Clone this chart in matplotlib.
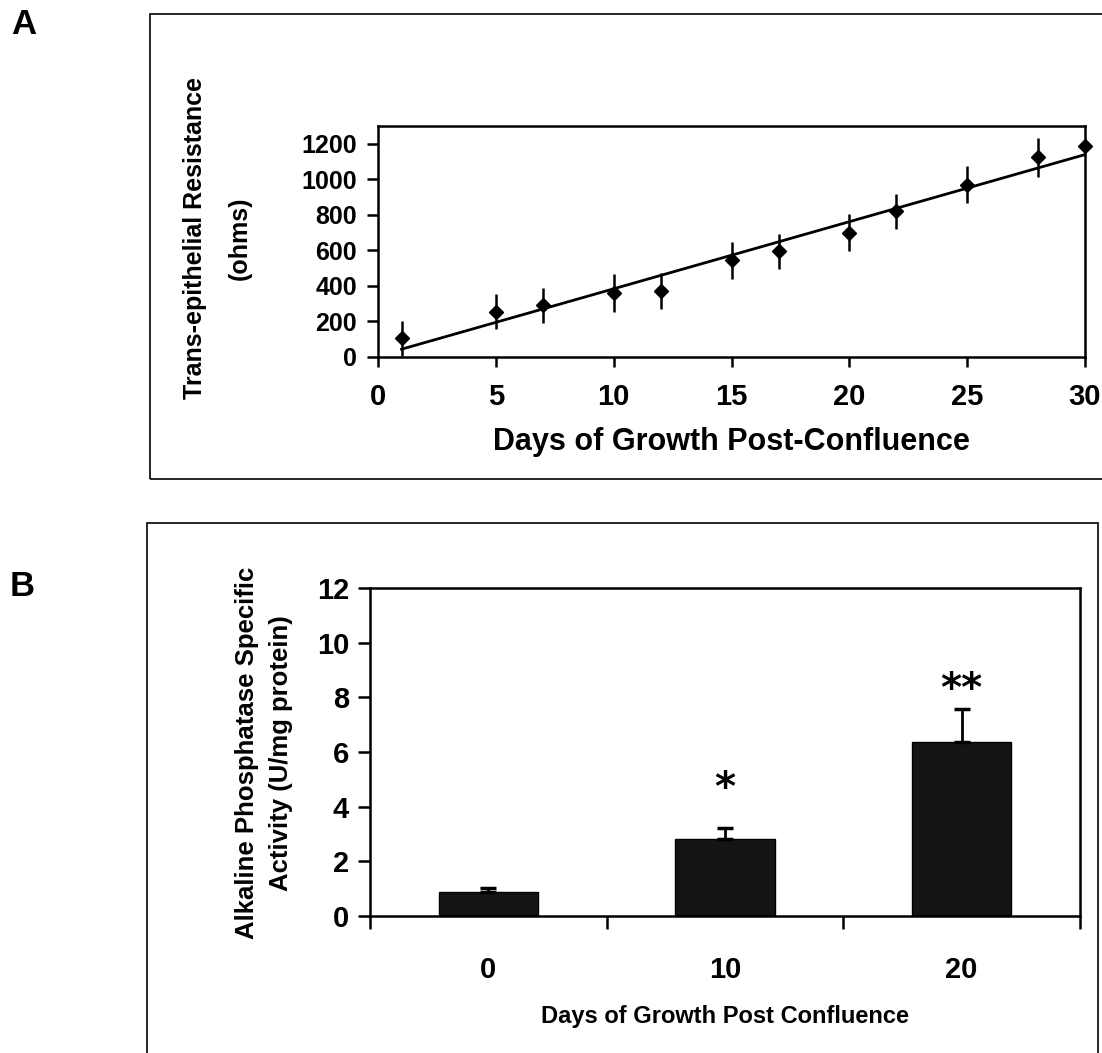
import numpy as np
import matplotlib
matplotlib.use("Agg")
import matplotlib.pyplot as plt
from matplotlib.patches import Rectangle

# panel A: trans-epithelial resistance vs days post-confluence
days_a = [1, 5, 7, 10, 12, 15, 17, 20, 22, 25, 28, 30]
resistance = [105, 255, 290, 360, 370, 545, 595, 700, 820, 970, 1125, 1190]
resistance_err = [100, 100, 100, 105, 100, 105, 100, 105, 100, 105, 110, 0]

# panel B: alkaline phosphatase activity
days_b = ["0", "10", "20"]
activity = [0.88, 2.8, 6.35]
activity_err = [0.15, 0.42, 1.22]
stars = ["", "*", "**"]

W, H = 1102, 1053
plt.rcParams["font.family"] = ["Liberation Sans", "DejaVu Sans"]
plt.rcParams["font.weight"] = "bold"
plt.rcParams["axes.labelweight"] = "bold"


def px_box(left, top, right, bottom):
    return [left / W, 1 - bottom / H, (right - left) / W, (bottom - top) / H]


def px_xy(x, y):
    return x / W, 1 - y / H


def style_spines(ax, lw=1.8):
    for side in ("left", "right", "top", "bottom"):
        ax.spines[side].set_linewidth(lw)
        ax.spines[side].set_color("black")


fig = plt.figure(figsize=(W / 100, H / 100), dpi=100)

# outer frames
for left, top, right, bottom in [(150, 14, 1110, 479), (147, 523, 1098, 1060)]:
    x0, y0 = px_xy(left, bottom)
    fig.patches.append(Rectangle((x0, y0), (right - left) / W, (bottom - top) / H,
                                 transform=fig.transFigure, fill=False,
                                 lw=1.2, edgecolor="black"))

fig.text(*px_xy(24, 24), "A", fontsize=25, ha="center", va="center")
fig.text(*px_xy(22, 587), "B", fontsize=25, ha="center", va="center")

# ---- panel A ----
ax_a = fig.add_axes(px_box(378, 126, 1085, 357))
ax_a.errorbar(days_a, resistance, yerr=resistance_err, fmt="none",
              ecolor="black", elinewidth=1.8, capsize=0)
ax_a.plot(days_a, resistance, "D", color="black", ms=7, clip_on=False, zorder=4)
fit = np.polyfit(days_a, resistance, 1)
fit_x = np.array([days_a[0], days_a[-1]])
ax_a.plot(fit_x, np.polyval(fit, fit_x), color="black", lw=2)

ax_a.set_xlim(0, 30)
ax_a.set_ylim(0, 1300)
ax_a.set_xticks(range(0, 31, 5))
ax_a.set_yticks(range(0, 1201, 200))
ax_a.tick_params(axis="x", direction="out", length=7, width=1.8, labelsize=21, pad=12)
ax_a.tick_params(axis="y", direction="out", length=8, width=1.8, labelsize=18, pad=7)
style_spines(ax_a)
ax_a.set_xlabel("Days of Growth Post-Confluence", fontsize=22)
ax_a.xaxis.label.set_va("center")
ax_a.xaxis.set_label_coords(0.5, (357 - 442) / 231)
fig.text(*px_xy(195, 238), "Trans-epithelial Resistance", rotation=90,
         fontsize=18, ha="center", va="center")
fig.text(*px_xy(240, 238), "(ohms)", rotation=90,
         fontsize=18, ha="center", va="center")

# ---- panel B ----
ax_b = fig.add_axes(px_box(370, 588, 1080, 916))
pos = np.arange(len(days_b)) + 0.5
ax_b.bar(pos, activity, width=0.42, color="#141414", edgecolor="black", lw=1, zorder=2)
ax_b.errorbar(pos, activity, yerr=[np.zeros(len(activity)), activity_err], fmt="none",
              ecolor="black", elinewidth=2, capsize=6, capthick=2.5, zorder=3)
star_y = [0, 4.25, 7.85]
for x, s, y in zip(pos, stars, star_y):
    if s:
        ax_b.text(x, y, s, fontsize=29, ha="center", va="baseline",
                  fontweight="bold", family=["DejaVu Sans"])

ax_b.set_xlim(0, 3)
ax_b.set_ylim(0, 12)
ax_b.set_yticks(range(0, 13, 2))
ax_b.set_xticks([0, 1, 2, 3])
ax_b.set_xticklabels([])
ax_b.set_xticks(pos, minor=True)
ax_b.set_xticklabels(days_b, minor=True)
ax_b.tick_params(axis="x", which="major", direction="out", length=9, width=1.8)
ax_b.tick_params(axis="x", which="minor", length=0, labelsize=21, pad=29)
ax_b.tick_params(axis="y", direction="out", length=9, width=1.8, labelsize=21, pad=6)
style_spines(ax_b)
ax_b.set_xlabel("Days of Growth Post Confluence", fontsize=17)
ax_b.xaxis.label.set_va("center")
ax_b.xaxis.set_label_coords(0.5, (916 - 1016) / 328)
fig.text(*px_xy(247, 753), "Alkaline Phosphatase Specific", rotation=90,
         fontsize=18.5, ha="center", va="center")
fig.text(*px_xy(281, 753), "Activity (U/mg protein)", rotation=90,
         fontsize=18.5, ha="center", va="center")

fig.savefig("out.png", dpi=100)
plt.close(fig)
